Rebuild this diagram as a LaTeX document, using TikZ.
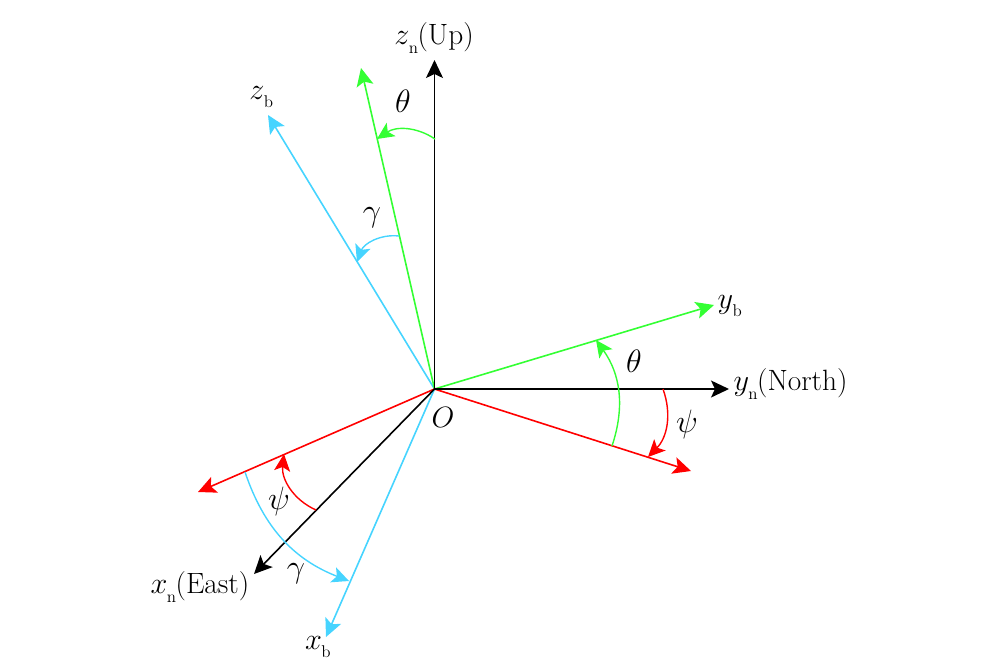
\documentclass[tikz,border=0pt]{standalone}
\usepackage{graphicx}
\usepackage{xcolor}
\usetikzlibrary{arrows.meta}
\definecolor{axisgreen}{RGB}{51,255,51}
\definecolor{axiscyan}{RGB}{70,212,255}
\newcommand{\axname}[3]{\scalebox{1.03}{$#1$}\kern-0.5pt\raisebox{-7pt}{\Large\rm #2}\kern-0.5pt #3}
\tikzset{
    axis/.style = {line width = 1.6pt, -{Stealth[length = 18pt, width = 17pt, inset = 4pt]}},
    angle/.style = {line width = 1.4pt, -{Stealth[length = 17pt, width = 16pt, inset = 4pt]}},
    lbl/.style = {inner sep = 0pt, font = \Huge, scale = 1.18},
    sym/.style = {inner sep = 0pt, font = \Huge, scale = 1.3}
}
\begin{document}
\begin{tikzpicture}[x = 1pt, y = -1pt]
        \useasboundingbox (0,0) rectangle (1000,665);
        \coordinate (O) at (434.5,389);
        % axis tips
        \coordinate (Zn) at (434.5,60);
        \coordinate (Yn) at (729,389);
        \coordinate (Xn) at (254,574);
        \coordinate (Zg) at (361,68);
        \coordinate (Yb) at (714,305);
        \coordinate (Yr) at (691,471);
        \coordinate (Xr) at (198,492);
        \coordinate (Zb) at (268,115);
        \coordinate (Xb) at (326,637);
        % arc ends
        \coordinate (Ta) at (435,139);
        \coordinate (Tb) at (377,139);
        \coordinate (Ga) at (399,236);
        \coordinate (Gb) at (357,262);
        \coordinate (Tc) at (612,446);
        \coordinate (Td) at (596,340);
        \coordinate (Pa) at (663,389);
        \coordinate (Pb) at (648,457);
        \coordinate (Pc) at (316,510);
        \coordinate (Pd) at (284,454);
        \coordinate (Gc) at (245,472);
        \coordinate (Gd) at (349,581);

        \path
            (O) edge [axis, axiscyan] (Zb)
                edge [axis, axiscyan] (Xb)
                edge [axis, axisgreen] (Zg)
                edge [axis, axisgreen] (Yb)
                edge [axis, red] (Yr)
                edge [axis, red] (Xr)
                edge [axis, black] (Zn)
                edge [axis, black] (Yn)
                edge [axis, black] (Xn)
            (Ta) edge [angle, axisgreen, bend right = 34] (Tb)
            (Ga) edge [angle, axiscyan, bend right = 38] (Gb)
            (Tc) edge [angle, axisgreen, bend right = 27] (Td)
            (Pa) edge [angle, red, bend left = 32] (Pb)
            (Pc) edge [angle, red, bend left = 36] (Pd)
            (Gc) edge [angle, axiscyan, bend right = 25] (Gd);

        \node [lbl] (zn) at (434,38) {\axname{z}{n}{(Up)}};
        \node [lbl] (zb) at (261,97) {\axname{z}{b}{}};
        \node [lbl] (yb) at (729.5,306) {\axname{y}{b}{}};
        \node [lbl] (yn) at (790.5,384) {\axname{y}{n}{(North)}};
        \node [lbl] (xn) at (200,587) {\axname{x}{n}{(East)}};
        \node [lbl] (xb) at (317.5,647) {\axname{x}{b}{}};
        \node [lbl] (o) at (443,417) {$O$};
        \node [sym] (t1) at (403,101) {$\theta$};
        \node [sym] (g1) at (372,218) {$\gamma$};
        \node [sym] (t2) at (634,361) {$\theta$};
        \node [sym] (p1) at (687,424) {$\psi$};
        \node [sym] (p2) at (279,501) {$\psi$};
        \node [sym] (g2) at (296,574) {$\gamma$};
    \end{tikzpicture}
\end{document}
